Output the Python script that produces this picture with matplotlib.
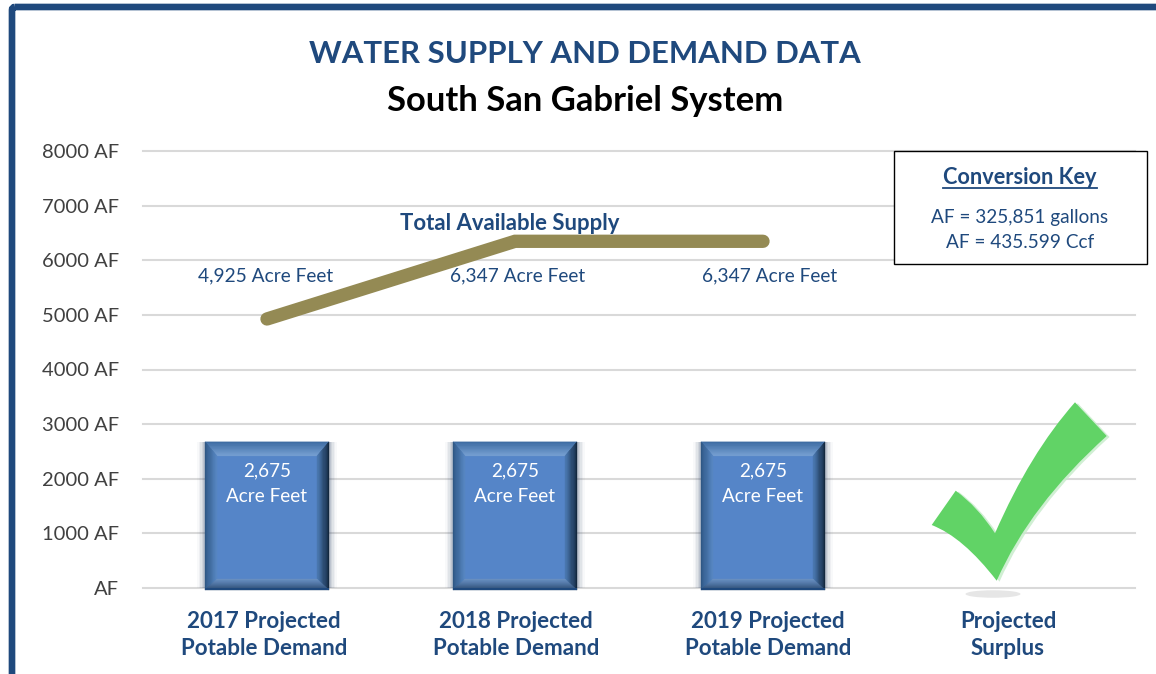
import matplotlib
matplotlib.use("Agg")
import matplotlib.pyplot as plt
import numpy as np
from matplotlib.path import Path
from matplotlib.patches import PathPatch, Ellipse, Rectangle, FancyBboxPatch

plt.rcParams['font.family'] = ['Lato', 'DejaVu Sans']

W, H = 1156, 674
categories = ["2017 Projected\nPotable Demand", "2018 Projected\nPotable Demand",
              "2019 Projected\nPotable Demand", "Projected\nSurplus"]
demand = [2675, 2675, 2675]
demand_labels = ["2,675\nAcre Feet", "2,675\nAcre Feet", "2,675\nAcre Feet"]
supply = [4925, 6347, 6347]
supply_labels = ["4,925 Acre Feet", "6,347 Acre Feet", "6,347 Acre Feet"]
y_ticks = [0, 1000, 2000, 3000, 4000, 5000, 6000, 7000, 8000]
y_tick_labels = ["AF", "1000 AF", "2000 AF", "3000 AF", "4000 AF", "5000 AF", "6000 AF", "7000 AF", "8000 AF"]

NAVY = "#1F497D"
GRID = "#D9D9D9"
fig = plt.figure(figsize=(W / 100, H / 100), dpi=100, facecolor="white")

# main chart
AX_L, AX_R, AX_T, AX_B = 143, 1135, 151, 588
ax = fig.add_axes([AX_L / W, 1 - AX_B / H, (AX_R - AX_L) / W, (AX_B - AX_T) / H])
ax.set_xlim(-0.5, 3.5)
ax.set_ylim(0, 8000)
ax.set_facecolor("none")
for s in ax.spines.values():
    s.set_visible(False)
ax.set_yticks(y_ticks, y_tick_labels, fontsize=14.5, color="#404040")
ax.set_xticks([])
ax.tick_params(axis="y", length=0, pad=17.5)
for t in ax.get_yticklabels():
    t.set_color("#404040")
ax.grid(axis="y", color=GRID, lw=1.5, zorder=0)
ax.set_axisbelow(True)
for g in ax.get_ygridlines():
    g.set_clip_on(False)

dxp = 4.0 / (AX_R - AX_L)
dyp = 8000.0 / (AX_B - AX_T)
BAR_W = 0.5


def lerp(c1, c2, f):
    a = np.array(matplotlib.colors.to_rgb(c1))
    b = np.array(matplotlib.colors.to_rgb(c2))
    return tuple(a + (b - a) * f)


def bevel(x0, x1, y1):
    """Bevel and glow of a bar, in data units, from the bar's own box."""
    y0 = -2 * dyp
    L, R, T, B = 12 * dxp, 12 * dxp, 14 * dyp, 11 * dyp
    n = 10
    # soft side shadow
    for i in range(5):
        a = 0.10 - i * 0.018
        ax.fill([x0 - (i + 1) * 1.6 * dxp, x1 + (i + 1) * 1.6 * dxp, x1 + (i + 1) * 1.6 * dxp, x0 - (i + 1) * 1.6 * dxp],
                [y0, y0, y1, y1], color="#1F3A5F", alpha=a, lw=0, zorder=2)
    sides = [
        ("top", "#3F6DA3", "#7CA5D6"),
        ("left", "#2F5885", "#5A8AC6"),
        ("right", "#13283F", "#4F7FBA"),
        ("bottom", "#2B4A70", "#6F96C8"),
    ]
    for side, c_out, c_in in sides:
        for i in range(n):
            f0, f1 = i / n, (i + 1) / n
            xa0, xb0, ya0, yb0 = x0 + L * f0, x1 - R * f0, y0 + B * f0, y1 - T * f0
            xa1, xb1, ya1, yb1 = x0 + L * f1, x1 - R * f1, y0 + B * f1, y1 - T * f1
            if side == "top":
                xs, ys = [xa0, xb0, xb1, xa1], [yb0, yb0, yb1, yb1]
            elif side == "bottom":
                xs, ys = [xa0, xb0, xb1, xa1], [ya0, ya0, ya1, ya1]
            elif side == "left":
                xs, ys = [xa0, xa1, xa1, xa0], [ya0, ya1, yb1, yb0]
            else:
                xs, ys = [xb0, xb1, xb1, xb0], [ya0, ya1, yb1, yb0]
            ax.fill(xs, ys, color=lerp(c_out, c_in, f0), lw=0.3, zorder=3.5, clip_on=False)
    ax.fill([x0, x1, x1, x0], [y0, y0, y0 + 2 * dyp, y0 + 2 * dyp], color=NAVY, lw=0, zorder=3.6, clip_on=False)


x_pos = np.arange(len(categories))
bars = ax.bar(x_pos[:len(demand)], demand, width=BAR_W, color="#5585C8", zorder=3, clip_on=False)
for b in bars:
    bevel(b.get_x(), b.get_x() + b.get_width(), b.get_height())

ax.plot(x_pos[:len(supply)], supply, color="#948A54", lw=9.6, solid_capstyle="round",
        solid_joinstyle="miter", zorder=4)

for x, v, lab in zip(x_pos, demand, demand_labels):
    ax.text(x, v - 42 * dyp, lab, color="white", ha="center", va="center", fontsize=13.6,
            linespacing=1.62, zorder=6)

# overlay in reference pixels for annotations
ov = fig.add_axes([0, 0, 1, 1], zorder=5)
ov.set_xlim(0, W)
ov.set_ylim(H, 0)
ov.axis("off")
ov.patch.set_alpha(0)

# outer frame
ov.add_patch(FancyBboxPatch((12, 7), W + 60, H + 60, boxstyle="round,pad=0,rounding_size=3",
                            fc="none", ec=NAVY, lw=4.8, clip_on=True))

ov.text(585, 54, "WATER SUPPLY AND DEMAND DATA", color=NAVY, fontsize=22.4, fontweight="bold", ha="center", va="center")
ov.text(585, 101, "South San Gabriel System", color="black", fontsize=24.9, fontweight="bold", ha="center", va="center")

ov.text(510, 224, "Total Available Supply", color=NAVY, fontsize=15.9, fontweight="bold", ha="center", va="center")
for cx, lab in zip([266, 518, 770], supply_labels):
    ov.text(cx, 276, lab, color=NAVY, fontsize=13.8, ha="center", va="center")

for cx, lab in zip([264, 516, 768, 1008], categories):
    ov.text(cx, 635, lab, color=NAVY, fontsize=16.1, fontweight="bold", ha="center", va="center", linespacing=1.38)

# conversion key
ov.add_patch(Rectangle((893.5, 151), 253, 113, fc="white", ec="black", lw=1.0, zorder=3))
ov.text(1020, 177.5, "Conversion Key", color=NAVY, fontsize=15.7, fontweight="bold", ha="center", va="center", zorder=4)
ov.plot([943, 1097], [188, 188], color=NAVY, lw=1.3, zorder=4)
ov.text(1020, 218, "AF = 325,851 gallons", color=NAVY, fontsize=13.65, ha="center", va="center", zorder=4)
ov.text(1020, 243, "AF = 435.599 Ccf", color=NAVY, fontsize=13.65, ha="center", va="center", zorder=4)

# check mark
verts = [(955.7, 490.7), (978, 507), (995, 533.3), (1030, 453), (1075, 402.3), (1106.7, 436),
         (1030, 505), (996.7, 580.7), (963, 537), (931.7, 525), (955.7, 490.7)]
codes = [Path.MOVETO, Path.CURVE3, Path.CURVE3, Path.CURVE3, Path.CURVE3, Path.LINETO,
         Path.CURVE3, Path.CURVE3, Path.CURVE3, Path.CURVE3, Path.CLOSEPOLY]
vv = np.array(verts)
ov.add_patch(PathPatch(Path(vv + [2.8, 1], codes), fc="#C5EBC9", ec="none", alpha=0.8, zorder=2))
ov.add_patch(PathPatch(Path(vv, codes), fc="#61D366", ec="none", zorder=2.5))
ov.add_patch(Ellipse((993, 594), 55, 7.5, fc="#E6E6E6", ec="none", zorder=2))

fig.savefig("out.png", dpi=100, facecolor="white")
